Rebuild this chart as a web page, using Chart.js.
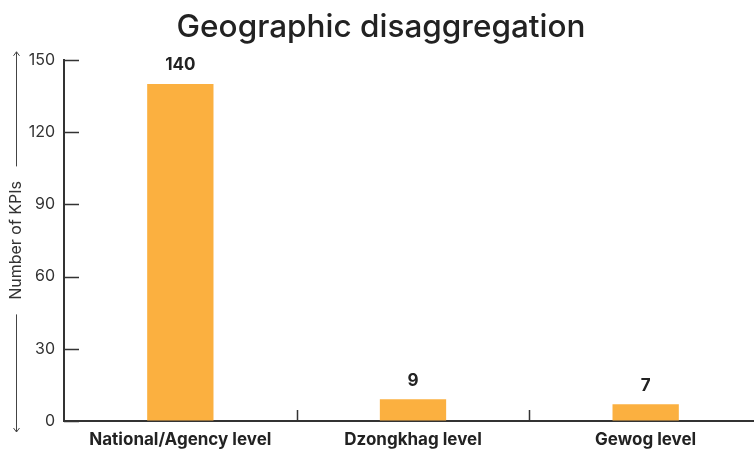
<!DOCTYPE html>
<html>
<head>
<meta charset="utf-8">
<script src="https://cdn.jsdelivr.net/npm/chart.js@4.4.1/dist/chart.umd.min.js"></script>
<style>
  html, body { margin: 0; padding: 0; background: #fff; overflow: hidden; }
  #wrap { width: 762px; height: 450px; position: relative; }
</style>
</head>
<body>
<div id="wrap"><canvas id="graficoBarras"></canvas></div>
<script>
const categorias = ["National/Agency level", "Dzongkhag level", "Gewog level"];
const numeroKPIs = [140, 9, 7];
const marcasY = [0, 30, 60, 90, 120, 150];

const fuente = "Inter, 'Open Sans', sans-serif";
const tinta = "#222222";
const ejeColor = "#333333";

// Etiquetas de valor encima de cada barra
const etiquetasBarras = {
  id: "etiquetasBarras",
  afterDatasetsDraw(chart) {
    const ctx = chart.ctx;
    const meta = chart.getDatasetMeta(0);
    ctx.save();
    ctx.font = "bold 17px " + fuente;
    ctx.fillStyle = tinta;
    ctx.textAlign = "center";
    ctx.textBaseline = "bottom";
    meta.data.forEach((barra, i) => {
      ctx.fillText(String(chart.data.datasets[0].data[i]), barra.x, barra.y - 10);
    });
    ctx.restore();
  }
};

// Marcas hacia dentro en ambos ejes y flechas del titulo vertical
const marcasEjes = {
  id: "marcasEjes",
  afterDraw(chart) {
    const ctx = chart.ctx;
    const y = chart.scales.y;
    const x = chart.scales.x;
    const area = chart.chartArea;
    ctx.save();
    ctx.strokeStyle = ejeColor;
    ctx.lineWidth = 1.5;
    ctx.beginPath();
    marcasY.forEach(v => {
      const py = Math.round(y.getPixelForValue(v)) + 0.5;
      ctx.moveTo(area.left, py);
      ctx.lineTo(area.left + 15, py);
    });
    for (let i = 1; i < categorias.length; i++) {
      const px = Math.round((x.getPixelForValue(i - 1) + x.getPixelForValue(i)) / 2) + 0.5;
      ctx.moveTo(px, area.bottom);
      ctx.lineTo(px, area.bottom - 11);
    }
    ctx.stroke();

    // linea con flechas alrededor de "Number of KPIs"
    const cx = 16.5;
    const medio = (area.top + area.bottom) / 2;
    const arriba = area.top - 8;
    const abajo = area.bottom + 11;
    const hueco = 74;
    ctx.strokeStyle = "#444444";
    ctx.lineWidth = 1;
    ctx.beginPath();
    ctx.moveTo(cx, arriba);
    ctx.lineTo(cx, medio - hueco);
    ctx.moveTo(cx, medio + hueco);
    ctx.lineTo(cx, abajo);
    ctx.moveTo(cx - 3, arriba + 4);
    ctx.lineTo(cx, arriba);
    ctx.lineTo(cx + 3, arriba + 4);
    ctx.moveTo(cx - 3, abajo - 4);
    ctx.lineTo(cx, abajo);
    ctx.lineTo(cx + 3, abajo - 4);
    ctx.stroke();
    ctx.restore();
  }
};

const ctx = document.getElementById("graficoBarras").getContext("2d");

new Chart(ctx, {
  type: "bar",
  data: {
    labels: categorias,
    datasets: [{
      label: "Number of KPIs",
      data: numeroKPIs,
      backgroundColor: "#FBB040",
      barPercentage: 0.285,
      categoryPercentage: 1
    }]
  },
  options: {
    responsive: true,
    maintainAspectRatio: false,
    animation: false,
    layout: { padding: { left: 0, right: 0, top: 0, bottom: 0 } },
    plugins: {
      legend: { display: false },
      tooltip: { enabled: false },
      title: {
        display: true,
        text: "Geographic disaggregation",
        color: tinta,
        font: { family: fuente, size: 31.5, weight: "500" },
        padding: { top: 9, bottom: 13 }
      }
    },
    scales: {
      x: {
        afterFit(scale) {
          scale.height = 29;
        },
        grid: { display: true, drawOnChartArea: false, drawTicks: false, offset: true },
        border: { display: true, color: ejeColor, width: 2 },
        ticks: {
          color: tinta,
          padding: 9,
          font: { family: fuente, size: 17, weight: "bold" }
        }
      },
      y: {
        min: 0,
        max: 150,
        afterBuildTicks(scale) {
          scale.ticks = marcasY.map(v => ({ value: v }));
        },
        afterFit(scale) {
          scale.width = 64;
        },
        grid: { display: true, drawOnChartArea: false, drawTicks: false },
        border: { display: true, color: ejeColor, width: 2 },
        ticks: {
          color: ejeColor,
          padding: 9,
          font: { family: fuente, size: 16 }
        },
        title: {
          display: true,
          text: "Number of KPIs",
          color: "#333333",
          padding: { top: 7, bottom: 0 },
          font: { family: fuente, size: 16 }
        }
      }
    }
  },
  plugins: [etiquetasBarras, marcasEjes]
});
</script>
</body>
</html>
